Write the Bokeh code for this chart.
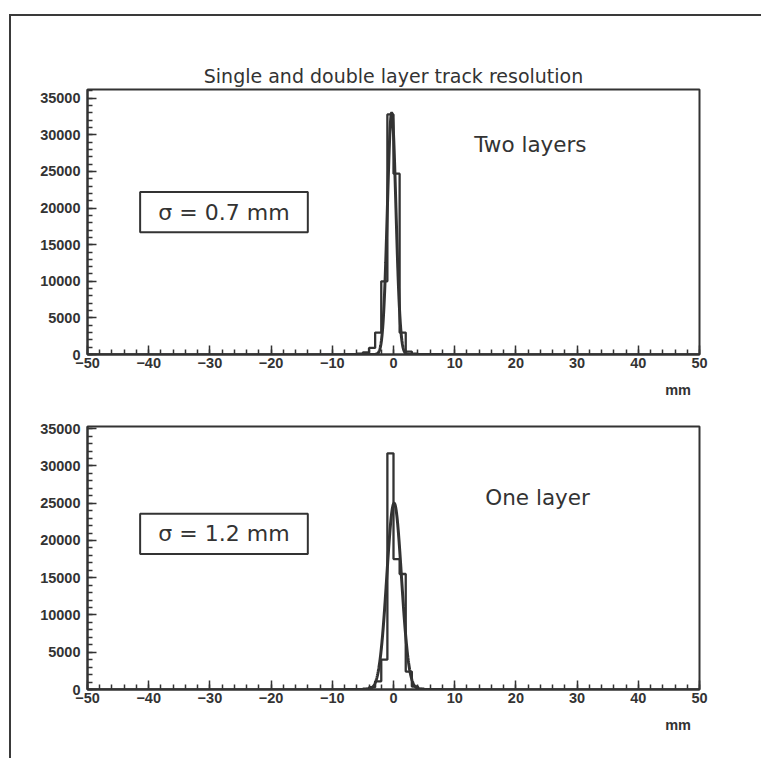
import numpy as np
from bokeh.plotting import figure
from bokeh.models import (Range1d, SingleIntervalTicker, FixedTicker, Label,
                          BoxAnnotation, CustomJSTickFormatter, LinearAxis)
from bokeh.layouts import column
from bokeh.embed import file_html
from bokeh.resources import INLINE

# Track residuals, 1 mm bins; lower edge of each populated bin (mm)
bin_lo = [-6, -5, -4, -3, -2, -1, 0, 1, 2, 3, 4]
two_layers = [100, 300, 900, 3000, 10000, 32800, 24700, 3000, 400, 100, 0]
one_layer = [50, 100, 300, 1100, 4000, 31700, 17500, 15500, 2400, 400, 100]

# Gaussian fits (amplitude in entries, mean and sigma in mm)
two_fit = {"amp": 33000, "mean": -0.3, "sigma": 0.7}
one_fit = {"amp": 25000, "mean": 0.1, "sigma": 1.2}

x_lim = (-50, 50)
y_max = {"two": 36200, "one": 35300}

INK = "#333333"
FONT = "DejaVu Sans"
TICK_FONT = "Liberation Sans"

minus_fmt = CustomJSTickFormatter(
    code="return tick < 0 ? '\u2212' + String(-tick) : String(tick);")


def full_hist(lo, counts):
    edges = np.arange(x_lim[0], x_lim[1] + 1, 1.0)
    vals = np.zeros(len(edges))
    for e, c in zip(lo, counts):
        vals[int(e - x_lim[0])] = c
    vals[-1] = 0
    return edges, vals


def gauss(fit):
    xs = np.linspace(-8, 8, 641)
    return xs, fit["amp"] * np.exp(-0.5 * ((xs - fit["mean"]) / fit["sigma"]) ** 2)


def make_panel(counts, fit, ymax, height, top, bottom, title=None):
    p = figure(width=752, height=height, x_range=Range1d(*x_lim),
               y_range=Range1d(0, ymax), output_backend="svg",
               toolbar_location=None, min_border_left=76, min_border_right=64,
               min_border_top=top, min_border_bottom=bottom,
               background_fill_color="white", border_fill_color="white")
    if title:
        p.title.text = title
        p.title.align = "center"
        p.title.text_font = FONT
        p.title.text_font_size = "19px"
        p.title.text_font_style = "normal"
        p.title.text_color = INK
        p.title.standoff = 5
    p.grid.visible = False
    p.outline_line_color = INK
    p.outline_line_width = 2

    p.xaxis.ticker = SingleIntervalTicker(interval=10, num_minor_ticks=5)
    p.yaxis.ticker = SingleIntervalTicker(interval=5000, num_minor_ticks=5)
    p.xaxis.formatter = minus_fmt
    for ax in (p.xaxis, p.yaxis):
        ax.major_tick_in = 9
        ax.major_tick_out = 0
        ax.minor_tick_in = 5
        ax.minor_tick_out = 0
        ax.major_tick_line_color = INK
        ax.minor_tick_line_color = INK
        ax.major_tick_line_width = 1.5
        ax.minor_tick_line_width = 1.5
        ax.axis_line_color = INK
        ax.axis_line_width = 2
        ax.major_label_text_font = TICK_FONT
        ax.major_label_text_font_size = "14.5px"
        ax.major_label_text_font_style = "bold"
        ax.major_label_text_color = INK
    p.xaxis.major_label_standoff = 3
    p.yaxis.major_label_standoff = 7

    # unit caption under the right end of the x axis
    unit_axis = LinearAxis(ticker=FixedTicker(ticks=[46.5]),
                           formatter=CustomJSTickFormatter(code="return 'mm';"),
                           axis_line_color=None, major_tick_line_color=None,
                           minor_tick_line_color=None, major_label_standoff=5,
                           major_label_text_font=TICK_FONT,
                           major_label_text_font_size="14.5px",
                           major_label_text_font_style="bold",
                           major_label_text_color=INK)
    p.add_layout(unit_axis, "below")

    edges, vals = full_hist(bin_lo, counts)
    p.step(edges, vals, mode="after", line_color=INK, line_width=2.3)
    gx, gy = gauss(fit)
    p.line(gx, gy, line_color=INK, line_width=3)
    return p


def add_texts(p, name, name_xy, sigma_text, box):
    left, right, bottom, top = box
    p.add_layout(Label(x=name_xy[0], y=name_xy[1], text=name, text_align="left",
                       text_baseline="middle", text_font=FONT,
                       text_font_size="21.5px", text_color=INK))
    p.add_layout(BoxAnnotation(left=left, right=right, bottom=bottom, top=top,
                               fill_alpha=0, line_color=INK, line_alpha=1,
                               line_width=2))
    p.add_layout(Label(x=(left + right) / 2, y=(bottom + top) / 2,
                       text=sigma_text, text_align="center",
                       text_baseline="middle", text_font=FONT,
                       text_font_size="22px", text_color=INK))


p1 = make_panel(two_layers, two_fit, y_max["two"], 400, 73, 62,
                title="Single and double layer track resolution")
add_texts(p1, "Two layers", (13.2, 28700), "\u03c3 = 0.7 mm",
          (-41.4, -14.0, 16700, 22200))

p2 = make_panel(one_layer, one_fit, y_max["one"], 342, 10, 69)
add_texts(p2, "One layer", (15.0, 25800), "\u03c3 = 1.2 mm",
          (-41.4, -14.0, 18200, 23600))

page = column(p1, p2, margin=(14, 0, 0, 9),
              styles={"border-left": "2px solid #3a3a3a",
                      "border-top": "2px solid #3a3a3a",
                      "background-color": "white"})

open("out.html", "w").write(file_html(page, INLINE))
